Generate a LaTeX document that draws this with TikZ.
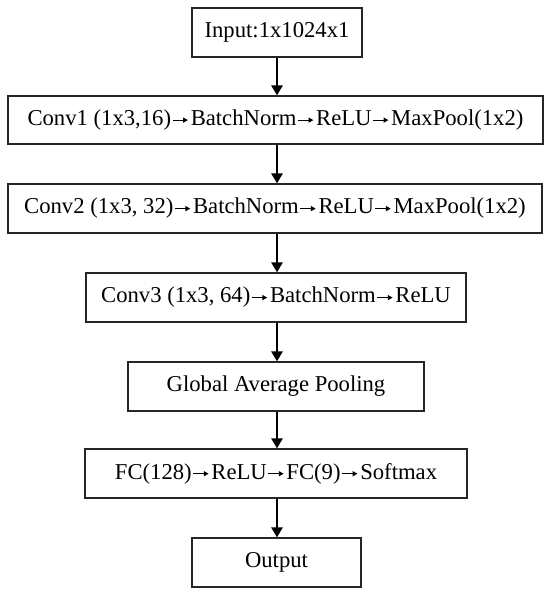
\documentclass[tikz,border=0pt]{standalone}
\usepackage{fontspec}
\setmainfont{Liberation Serif}
\usetikzlibrary{arrows.meta}
\newcommand{\tarr}{\hspace{0.8pt}\tikz[baseline=0pt]\draw[line width=0.65pt,-{Triangle[length=3.6pt,width=3.8pt]}] (0pt,4pt)--(11.5pt,4pt);\hspace{1.8pt}}
\begin{document}
\begin{tikzpicture}[x=0.75pt,y=-0.75pt,
  blk/.style={draw=black!85, line width=1pt, rectangle, inner sep=0pt,
    minimum height=49*0.75pt, font=\fontsize{17pt}{20pt}\selectfont, text=black},
  flow/.style={line width=1.4pt, -{Triangle[length=7.5pt,width=8.5pt]}}]
\useasboundingbox (0,0) rectangle (550,595);
\node[blk, minimum width=170*0.75pt] (in) at (277,32.5) {Input:1x1024x1};
\node[blk, minimum width=535*0.75pt, minimum height=48*0.75pt] (c1) at (275.5,120) {Conv1 (1x3,16)\tarr BatchNorm\tarr ReLU\tarr MaxPool(1x2)};
\node[blk, minimum width=534*0.75pt] (c2) at (275,208.5) {Conv2 (1x3, 32)\tarr BatchNorm\tarr ReLU\tarr MaxPool(1x2)};
\node[blk, minimum width=380*0.75pt] (c3) at (276,297.5) {Conv3 (1x3, 64)\tarr BatchNorm\tarr ReLU};
\node[blk, minimum width=296*0.75pt] (gap) at (276,386.5) {Global Average Pooling};
\node[blk, minimum width=382*0.75pt] (fc) at (276,473.5) {FC(128)\tarr ReLU\tarr FC(9)\tarr Softmax};
\node[blk, minimum width=169*0.75pt] (out) at (276.5,562.5) {Output};
\draw[flow] (in.south) -- (in.south |- c1.north);
\draw[flow] (in.south |- c1.south) -- (in.south |- c2.north);
\draw[flow] (in.south |- c2.south) -- (in.south |- c3.north);
\draw[flow] (in.south |- c3.south) -- (in.south |- gap.north);
\draw[flow] (in.south |- gap.south) -- (in.south |- fc.north);
\draw[flow] (in.south |- fc.south) -- (in.south |- out.north);
\end{tikzpicture}
\end{document}
